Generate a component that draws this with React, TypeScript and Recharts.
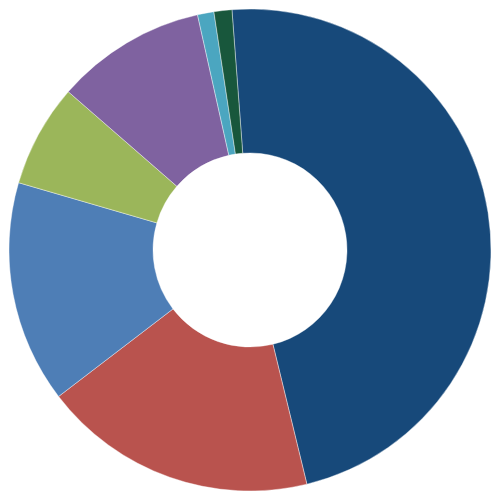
import { Cell, Pie, PieChart } from "recharts";

const categories = ["A", "B", "C", "D", "E", "F", "G"];
const shares = [47.4, 18.4, 14.9, 6.9, 10.1, 1.1, 1.2];
const colors = ["#17497A", "#B9534E", "#4E7EB6", "#9BB65A", "#7F62A0", "#4BA6C0", "#18573C"];

const data = categories.map((name, i) => ({ name, value: shares[i] }));

export default function App() {
  return (
    <div style={{ position: "absolute", left: 0, top: 0, width: 500, height: 500 }}>
      <PieChart width={500} height={500} margin={{ top: 0, right: 0, bottom: 0, left: 0 }}>
        <Pie
          data={data}
          dataKey="value"
          nameKey="name"
          cx={250}
          cy={250}
          innerRadius={97}
          outerRadius={241}
          startAngle={94.3}
          endAngle={94.3 - 360}
          stroke="#ffffff"
          strokeWidth={0.4}
          isAnimationActive={false}
        >
          {data.map((d, i) => (
            <Cell key={d.name} fill={colors[i]} />
          ))}
        </Pie>
      </PieChart>
    </div>
  );
}
